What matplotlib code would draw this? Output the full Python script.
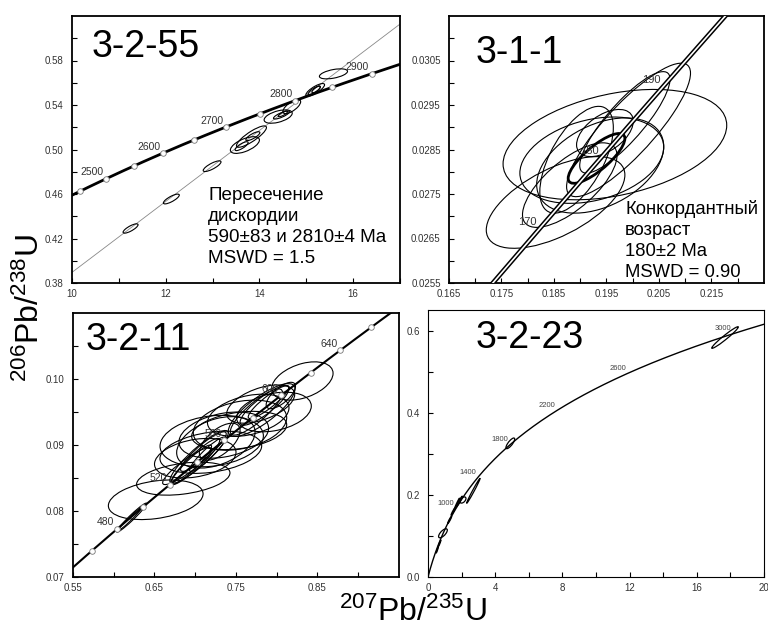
import numpy as np
import matplotlib
matplotlib.use("Agg")
import matplotlib.pyplot as plt
from matplotlib.patches import Ellipse

plt.rcParams['font.family'] = ['Liberation Sans', 'DejaVu Sans']
plt.rcParams['mathtext.fontset'] = 'custom'
plt.rcParams['mathtext.rm'] = 'Liberation Sans'
plt.rcParams['mathtext.default'] = 'regular'

# decay constants (1/yr) used for the concordia curve
L238 = 1.55125e-10
L235 = 9.8485e-10

# --- 3-2-55 : discordia sample ---
p1_cx = [11.25, 12.12, 12.99, 13.69, 13.83, 13.86, 13.62, 14.40, 14.47, 14.50, 14.69, 15.19, 15.17, 15.21, 15.58]
p1_cy = [0.4290, 0.4555, 0.4850, 0.5040, 0.5116, 0.5120, 0.5030, 0.5296, 0.5310, 0.5320, 0.5385, 0.5536, 0.5530, 0.5540, 0.5680]
p1_sx = [0.16, 0.17, 0.19, 0.31, 0.32, 0.15, 0.14, 0.30, 0.17, 0.10, 0.19, 0.20, 0.13, 0.09, 0.30]
p1_sy = [0.0042, 0.0044, 0.0048, 0.0075, 0.0096, 0.0040, 0.0040, 0.0060, 0.0036, 0.0025, 0.0063, 0.0057, 0.0040, 0.0030, 0.0045]
p1_rho = [0.8, 0.8, 0.8, 0.6, 0.85, 0.8, 0.8, 0.5, 0.8, 0.8, 0.7, 0.8, 0.8, 0.8, 0.5]
p1_marks = [2450, 2500, 2550, 2600, 2650, 2700, 2750, 2800, 2850, 2900]
p1_labels = [2500, 2600, 2700, 2800, 2900]
p1_intercepts = [590, 2810]

# --- 3-1-1 : concordant sample (last one = concordia age ellipse) ---
p2_cx = [0.1966, 0.1853, 0.1992, 0.1985, 0.1938, 0.1947, 0.1893, 0.1922, 0.1880, 0.1931]
p2_cy = [0.02861, 0.02731, 0.02894, 0.02911, 0.02814, 0.02887, 0.02827, 0.02826, 0.02770, 0.02830]
p2_sx = [0.0213, 0.0132, 0.0118, 0.0086, 0.0121, 0.0054, 0.0070, 0.0137, 0.0090, 0.0054]
p2_sy = [0.00124, 0.00103, 0.00150, 0.00114, 0.00107, 0.00053, 0.00120, 0.00097, 0.00095, 0.00056]
p2_rho = [0.35, 0.6, 0.85, 0.85, 0.4, 0.5, 0.6, 0.3, 0.7, 0.8]
p2_labels = [170, 180, 190]

# --- 3-2-11 ---
p3_cx = [0.8314, 0.7966, 0.7803, 0.7549, 0.7202, 0.6515, 0.6220, 0.6200, 0.6853, 0.7191, 0.7253,
         0.7539, 0.7815, 0.7850, 0.7900, 0.7046, 0.7000, 0.7100, 0.6950, 0.7300, 0.8050,
         0.7350, 0.7650, 0.7000, 0.6900, 0.7150, 0.7750]
p3_cy = [0.0997, 0.0950, 0.0962, 0.0930, 0.0906, 0.0817, 0.0790, 0.0788, 0.0849, 0.0889, 0.0904,
         0.0922, 0.0953, 0.0960, 0.0965, 0.0882, 0.0875, 0.0890, 0.0870, 0.0905, 0.0975,
         0.0915, 0.0945, 0.0880, 0.0868, 0.0886, 0.0950]
p3_sx = [0.0377, 0.0458, 0.0417, 0.0573, 0.0634, 0.0581, 0.0184, 0.0140, 0.0573, 0.0624, 0.0481,
         0.0583, 0.0409, 0.0300, 0.0250, 0.0358, 0.0300, 0.0280, 0.0250, 0.0250, 0.0180,
         0.0550, 0.0500, 0.0500, 0.0300, 0.0220, 0.0320]
p3_sy = [0.0029, 0.0030, 0.0029, 0.0038, 0.0039, 0.0030, 0.0022, 0.0017, 0.0025, 0.0032, 0.0039,
         0.0029, 0.0040, 0.0030, 0.0025, 0.0040, 0.0035, 0.0030, 0.0030, 0.0028, 0.0020,
         0.0035, 0.0032, 0.0030, 0.0028, 0.0026, 0.0035]
p3_rho = [0.4, 0.3, 0.5, 0.3, 0.2, 0.3, 0.97, 0.98, 0.35, 0.3, 0.4,
          0.3, 0.8, 0.85, 0.9, 0.9, 0.92, 0.9, 0.93, 0.6, 0.7,
          0.3, 0.35, 0.3, 0.9, 0.92, 0.85]
p3_marks = [460, 480, 500, 520, 540, 560, 580, 600, 620, 640, 660]
p3_labels = [480, 520, 560, 600, 640]

# --- 3-2-23 ---
p4_cx = [17.68, 4.90, 2.70, 2.08, 1.85, 1.70, 1.49, 1.29, 0.89, 0.69, 0.55]
p4_cy = [0.583, 0.3254, 0.2098, 0.1874, 0.183, 0.176, 0.159, 0.139, 0.1064, 0.082, 0.066]
p4_sx = [0.79, 0.26, 0.40, 0.18, 0.20, 0.18, 0.12, 0.12, 0.26, 0.08, 0.07]
p4_sy = [0.0263, 0.013, 0.0304, 0.0075, 0.014, 0.016, 0.009, 0.009, 0.0110, 0.008, 0.008]
p4_rho = [0.97, 0.8, 0.99, 0.5, 0.97, 0.98, 0.95, 0.95, 0.7, 0.95, 0.95]
p4_labels = [1000, 1400, 1800, 2200, 2600, 3000]


def conc(age_ma):
    t = np.asarray(age_ma, dtype=float) * 1e6
    return np.exp(L235 * t) - 1, np.exp(L238 * t) - 1


def draw_ellipses(ax, cx, cy, sx, sy, rho, lw=0.8):
    for x, y, a, b, r in zip(cx, cy, sx, sy, rho):
        cov = np.array([[a * a, r * a * b], [r * a * b, b * b]])
        vals, vecs = np.linalg.eigh(cov)
        ang = np.degrees(np.arctan2(vecs[1, 1], vecs[0, 1]))
        ax.add_patch(Ellipse((x, y), 2 * np.sqrt(vals[1]), 2 * np.sqrt(vals[0]),
                             angle=ang, fill=False, ec='black', lw=lw, zorder=2))


def label_ages(ax, ages, size, color='#333333', dx=-2, dy=1):
    xs, ys = conc(ages)
    for a, x, y in zip(ages, xs, ys):
        ax.annotate(str(a), (x, y), xytext=(dx, dy), textcoords='offset points',
                    ha='right', va='bottom', fontsize=size, color=color, zorder=5)


def style(ax, xmaj, xlab, xmin, ymaj, ylab, ymin, xlim, ylim, lw=1.3):
    ax.set_xlim(*xlim)
    ax.set_ylim(*ylim)
    ax.set_xticks(xmaj, xlab)
    ax.set_xticks(xmin, minor=True)
    ax.set_yticks(ymaj, ylab)
    ax.set_yticks(ymin, minor=True)
    ax.tick_params(which='both', direction='in', labelsize=7, labelcolor='#333333',
                   width=0.8, length=3.5, top=False, right=False)
    ax.tick_params(axis='y', pad=6)
    ax.tick_params(axis='x', pad=4)
    for s in ax.spines.values():
        s.set_linewidth(lw)


fig = plt.figure(figsize=(7.68, 6.33), dpi=100)
W, H = 768, 633


def add_axes(l, t, r, b):
    return fig.add_axes([l / W, 1 - b / H, (r - l) / W, (b - t) / H])


# panel 1
ax1 = add_axes(72, 16, 400, 283)
style(ax1, [10, 12, 14, 16], ['10', '12', '14', '16'], [11, 13, 15, 17],
      [0.38, 0.42, 0.46, 0.50, 0.54, 0.58], ['0.38', '0.42', '0.46', '0.50', '0.54', '0.58'],
      [0.40, 0.44, 0.48, 0.52, 0.56, 0.60], (10, 17), (0.38, 0.62))
lo, up = conc(p1_intercepts)
ax1.axline((lo[0], up[0]), (lo[1], up[1]), color='#888888', lw=0.6, zorder=1)
draw_ellipses(ax1, p1_cx, p1_cy, p1_sx, p1_sy, p1_rho)
cx, cy = conc(np.linspace(2400, 3000, 200))
ax1.plot(cx, cy, color='black', lw=2.0, zorder=3)
mx, my = conc(p1_marks)
ax1.plot(mx, my, 'o', ms=4, mfc='white', mec='#777777', mew=0.6, zorder=4)
label_ages(ax1, p1_labels, 7.5)
ax1.text(0.061, 0.8476, '3-2-55', transform=ax1.transAxes, fontsize=27, va='baseline')
ax1.text(0.415, 0.075, 'Пересечение\nдискордии\n590±83 и 2810±4 Ma\nMSWD = 1.5',
         transform=ax1.transAxes, fontsize=13.6, va='baseline', linespacing=1.3)

# panel 2
ax2 = add_axes(449, 16, 764, 283)
style(ax2, [0.165, 0.175, 0.185, 0.195, 0.205, 0.215],
      ['0.165', '0.175', '0.185', '0.195', '0.205', '0.215'],
      [0.170, 0.180, 0.190, 0.200, 0.210, 0.220],
      [0.0255, 0.0265, 0.0275, 0.0285, 0.0295, 0.0305],
      ['0.0255', '0.0265', '0.0275', '0.0285', '0.0295', '0.0305'],
      [0.0260, 0.0270, 0.0280, 0.0290, 0.0300, 0.0310],
      (0.165, 0.225), (0.0255, 0.0315))
draw_ellipses(ax2, p2_cx[:-1], p2_cy[:-1], p2_sx[:-1], p2_sy[:-1], p2_rho[:-1])
draw_ellipses(ax2, p2_cx[-1:], p2_cy[-1:], p2_sx[-1:], p2_sy[-1:], p2_rho[-1:], lw=2.0)
cx, cy = conc(np.linspace(155, 210, 200))
ax2.plot(cx, cy, color='black', lw=3.4, zorder=3, solid_capstyle='butt')
ax2.plot(cx, cy, color='white', lw=1.2, zorder=3.5, solid_capstyle='butt')
label_ages(ax2, p2_labels, 8)
ax2.text(0.083, 0.823, '3-1-1', transform=ax2.transAxes, fontsize=27, va='baseline')
ax2.text(0.559, 0.0225, 'Конкордантный\nвозраст\n180±2 Ma\nMSWD = 0.90',
         transform=ax2.transAxes, fontsize=13.3, va='baseline', linespacing=1.3)

# panel 3
ax3 = add_axes(73, 313, 399, 577)
style(ax3, [0.55, 0.65, 0.75, 0.85], ['0.55', '0.65', '0.75', '0.85'],
      [0.60, 0.70, 0.80, 0.90],
      [0.07, 0.08, 0.09, 0.10], ['0.07', '0.08', '0.09', '0.10'],
      [0.075, 0.085, 0.095, 0.105], (0.55, 0.95), (0.07, 0.11))
draw_ellipses(ax3, p3_cx, p3_cy, p3_sx, p3_sy, p3_rho)
cx, cy = conc(np.linspace(420, 700, 200))
ax3.plot(cx, cy, color='black', lw=1.5, zorder=3)
mx, my = conc(p3_marks)
ax3.plot(mx, my, 'o', ms=4, mfc='white', mec='#777777', mew=0.6, zorder=4)
label_ages(ax3, p3_labels, 7.5)
ax3.text(0.04, 0.86, '3-2-11', transform=ax3.transAxes, fontsize=27, va='baseline')

# panel 4
ax4 = add_axes(428, 310, 764, 577)
style(ax4, [0, 4, 8, 12, 16, 20], ['0', '4', '8', '12', '16', '20'],
      [2, 6, 10, 14, 18],
      [0.0, 0.2, 0.4, 0.6], ['0.0', '0.2', '0.4', '0.6'],
      [0.1, 0.3, 0.5], (0, 20), (0, 0.65), lw=0.8)
draw_ellipses(ax4, p4_cx, p4_cy, p4_sx, p4_sy, p4_rho, lw=0.9)
cx, cy = conc(np.linspace(0, 3200, 400))
ax4.plot(cx, cy, color='black', lw=1.0, zorder=3)
label_ages(ax4, p4_labels, 5.5, color='#444444', dx=-1.5, dy=1)
ax4.text(0.143, 0.857, '3-2-23', transform=ax4.transAxes, fontsize=27, va='baseline')

fig.text(30 / W, 1 - 308 / H, r'$^{206}$Pb/$^{238}$U', rotation=90, fontsize=23,
         ha='center', va='center')
fig.text(413 / W, 1 - 612 / H, r'$^{207}$Pb/$^{235}$U', fontsize=23,
         ha='center', va='center')

fig.savefig('out.png', dpi=100)
